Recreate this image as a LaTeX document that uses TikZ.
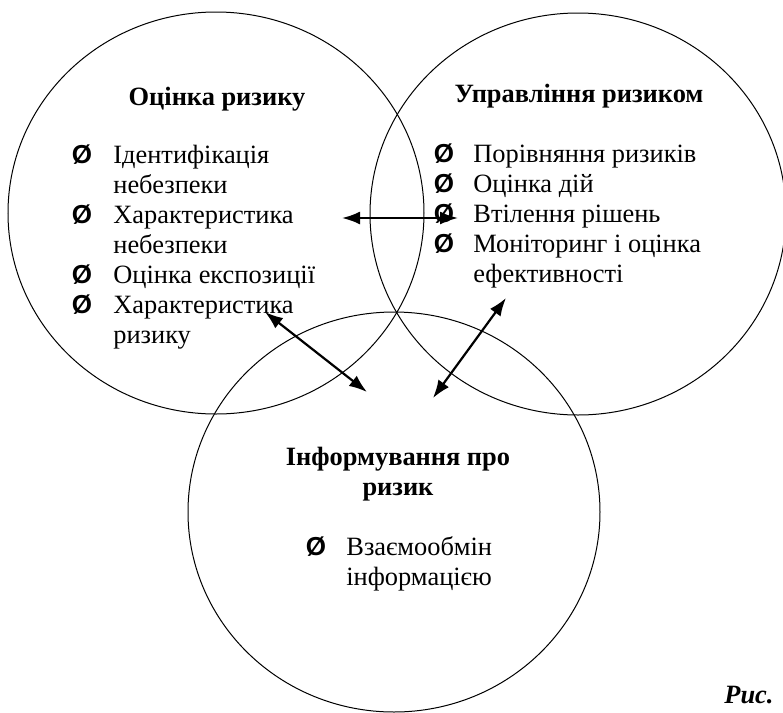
\documentclass[tikz,border=0pt]{standalone}
\usepackage{fontspec}
\setmainfont{Liberation Serif}
\newfontfamily\bulletfont{Liberation Sans}
\usetikzlibrary{arrows.meta}

\begin{document}
\begin{tikzpicture}[x=0.5pt,y=-0.5pt,
    link/.style={{Latex[length=9pt,width=6.5pt]}-{Latex[length=9pt,width=6.5pt]},line width=1.1pt},
    ring/.style={draw,line width=0.5pt},
    line/.style={anchor=base west,inner sep=0pt,font=\fontsize{13.2}{15}\selectfont},
    head/.style={anchor=base,inner sep=0pt,font=\fontsize{13.2}{15}\selectfont\bfseries},
    bul/.style={anchor=base,inner sep=0pt,font=\bulletfont\fontsize{13}{15}\selectfont\bfseries}]

    \useasboundingbox (0,0) rectangle (783,713);
    \clip (0,0) rectangle (783,713);

    \draw[ring] (216,213) ellipse [x radius=104pt, y radius=100.5pt];
    \draw[ring] (578,214) ellipse [x radius=104pt, y radius=100.5pt];
    \draw[ring] (394,512) ellipse [x radius=103pt, y radius=100pt];

    % assessment
    \node[head] (hRisk) at (217,105) {Оцінка ризику};
    \node[bul] (bR1) at (82,163) {Ø};
    \node[line] (r1a) at (113,163) {Ідентифікація};
    \node[line] (r1b) at (113,193) {небезпеки};
    \node[bul] (bR2) at (82,223) {Ø};
    \node[line] (r2a) at (113,223) {Характеристика};
    \node[line] (r2b) at (113,253) {небезпеки};
    \node[bul] (bR3) at (82,283) {Ø};
    \node[line] (r3a) at (113,283) {Оцінка експозиції};
    \node[bul] (bR4) at (82,313) {Ø};
    \node[line] (r4a) at (113,313) {Характеристика};
    \node[line] (r4b) at (113,343) {ризику};

    % management
    \node[head] (hMgmt) at (579,102) {Управління ризиком};
    \node[bul] (bM1) at (444,162) {Ø};
    \node[line] (m1a) at (473,162) {Порівняння ризиків};
    \node[bul] (bM2) at (444,192) {Ø};
    \node[line] (m2a) at (473,192) {Оцінка дій};
    \node[bul] (bM3) at (444,222) {Ø};
    \node[line] (m3a) at (473,222) {Втілення рішень};
    \node[bul] (bM4) at (444,252) {Ø};
    \node[line] (m4a) at (473,252) {Моніторинг і оцінка};
    \node[line] (m4b) at (473,282) {ефективності};

    % communication
    \node[head] (hInfo1) at (398,465) {Інформування про};
    \node[head] (hInfo2) at (398,495) {ризик};
    \node[bul] (bI1) at (316,555) {Ø};
    \node[line] (i1a) at (346,555) {Взаємообмін};
    \node[line] (i1b) at (346,585) {інформацією};

    \node[anchor=base west,inner sep=0pt,font=\fontsize{13.2}{15}\selectfont\bfseries\itshape] (fig) at (724,703) {Рис.};

    \coordinate (pR) at (342,218);
    \coordinate (pM) at (458,218);
    \coordinate (qR) at (265,312);
    \coordinate (qI) at (367,392);
    \coordinate (sM) at (506,298);
    \coordinate (sI) at (433,398);

    \path[link,draw] (pR) -- (pM);
    \path[link,draw] (qR) -- (qI);
    \path[link,draw] (sM) -- (sI);

\end{tikzpicture}
\end{document}
